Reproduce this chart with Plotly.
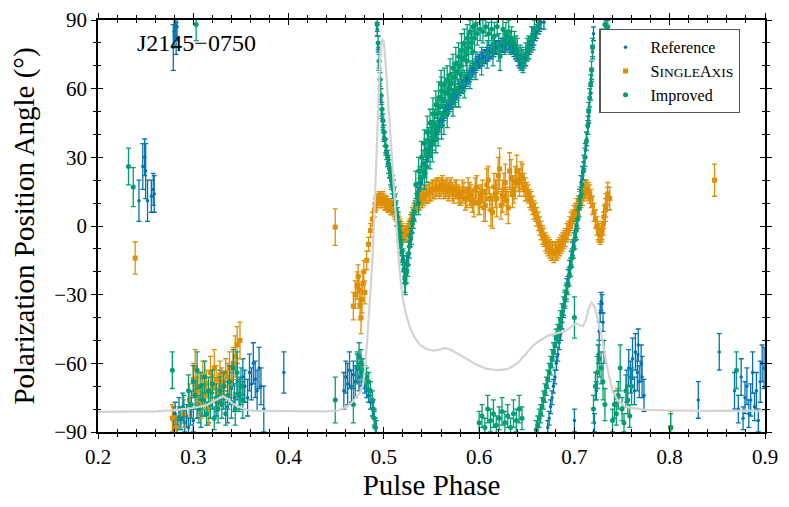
import plotly.graph_objects as go

# Reference solution (blue)
ref_phase = [
    0.243, 0.247, 0.249, 0.250, 0.252, 0.256, 0.258, 0.259,
    0.279, 0.280, 0.281, 0.282, 0.283,
    0.279, 0.281, 0.283, 0.285, 0.287, 0.289, 0.291, 0.293, 0.295, 0.297,
    0.300, 0.304, 0.308, 0.312, 0.316, 0.320, 0.324, 0.328, 0.332, 0.336,
    0.340, 0.343, 0.346, 0.349, 0.352, 0.354, 0.357, 0.359, 0.361, 0.363,
    0.365, 0.367, 0.369, 0.371, 0.374, 0.395,
    0.458, 0.460, 0.462, 0.464, 0.466, 0.468, 0.470, 0.472, 0.474, 0.476,
    0.478, 0.480, 0.482, 0.484, 0.486, 0.488, 0.490, 0.492,
    0.493, 0.494, 0.495, 0.496, 0.497, 0.498, 0.499, 0.500, 0.502, 0.504,
    0.506, 0.508, 0.510, 0.512, 0.514, 0.516, 0.518, 0.520, 0.522, 0.524,
    0.526, 0.528, 0.530, 0.533, 0.536, 0.539, 0.542, 0.545, 0.548, 0.551,
    0.554, 0.557, 0.560, 0.563, 0.566, 0.569, 0.572, 0.575, 0.578, 0.581,
    0.584, 0.587, 0.590, 0.593, 0.596, 0.599, 0.602, 0.605, 0.608, 0.611,
    0.614, 0.617, 0.620, 0.623, 0.626, 0.629, 0.632, 0.635, 0.638, 0.641,
    0.644, 0.647, 0.650, 0.653, 0.656, 0.659, 0.662, 0.665, 0.668,
    0.672, 0.675, 0.678, 0.681, 0.684, 0.687, 0.690, 0.692, 0.695, 0.698,
    0.701, 0.704, 0.707, 0.710, 0.713, 0.715, 0.717, 0.718, 0.719, 0.720,
    0.700, 0.721, 0.723, 0.725, 0.726, 0.727, 0.728, 0.729, 0.730, 0.731,
    0.729, 0.731, 0.733,
    0.755, 0.757, 0.759, 0.761, 0.763, 0.764, 0.766, 0.767, 0.768, 0.770,
    0.771, 0.773, 0.830, 0.852,
    0.868, 0.872, 0.875, 0.877, 0.879, 0.881, 0.883, 0.885, 0.887, 0.889,
    0.891, 0.893, 0.895, 0.897, 0.899,
]
ref_pa = [
    11, 26, 30, 24, 11, 13, 16, 14,
    78, 85, 88, 82, 87,
    -85, -82, -87, -80, -84, -79, -86, -83, -88, -81,
    -85, -78, -82, -76, -80, -73, -77, -70, -74, -79,
    -71, -75, -68, -73, -66, -70, -75, -64, -69, -60,
    -67, -72, -62, -70, -80, -64,
    -72, -66, -69, -63, -70, -65, -68, -62, -66, -64,
    -68, -70, -72, -74, -77, -80, -84, -88,
    86, 78, 70, 62, 55, 49, 44, 39, 33, 28,
    23, 19, 14, 8, 2, -4, -9, -14, -19, -16,
    -9, -3, 2, 8, 14, 19, 24, 29, 33, 36,
    40, 43, 46, 49, 51, 53, 55, 57, 59, 61,
    62, 64, 66, 68, 70, 72, 73, 74, 75, 76,
    77, 78, 78, 79, 79, 80, 79, 78, 76, 73,
    71, 72, 75, 78, 81, 84, 87, 89, 89,
    -88, -79, -70, -60, -51, -42, -32, -26, -18, -10,
    -2, 8, 19, 28, 38, 48, 58, 66, 76, 84,
    -85, -86, -72, -56, -46, -38, -33, -34, -42, -55,
    82, 78, 87,
    -70, -62, -66, -58, -72, -55, -64, -52, -68, -60,
    -66, -74, -76, -55,
    -72, -80, -66, -84, -75, -70, -82, -76, -64, -79,
    -72, -85, -68, -60, -62,
]
ref_err = [
    9, 10, 8, 12, 9, 7, 7, 8,
    10, 6, 5, 7, 6,
    6, 5, 4, 5, 5, 6, 4, 5, 4, 6,
    5, 6, 6, 7, 6, 7, 6, 7, 6, 7,
    7, 6, 8, 7, 8, 7, 8, 8, 7, 9,
    8, 9, 9, 8, 10, 9,
    8, 7, 9, 8, 7, 6, 7, 6, 6, 6,
    3, 3, 3, 3, 3, 3, 3, 3,
    3, 2, 2, 2, 2, 2, 2, 2, 2, 2,
    2, 2, 2, 2, 2, 3, 3, 3, 3, 3,
    3, 3, 3, 3, 3, 3, 3, 3, 3, 3,
    3, 3, 3, 3, 3, 3, 3, 3, 3, 3,
    3, 3, 3, 3, 3, 3, 3, 3, 3, 3,
    3, 3, 3, 3, 3, 3, 3, 3, 3, 3,
    3, 3, 3, 3, 3, 3, 3, 3, 3,
    3, 3, 3, 3, 3, 3, 3, 3, 3, 3,
    3, 3, 3, 3, 3, 3, 3, 3, 3, 3,
    5, 4, 4, 4, 4, 4, 4, 4, 4, 5,
    4, 4, 3,
    7, 8, 7, 9, 6, 8, 8, 7, 7, 8,
    9, 7, 8, 8,
    8, 6, 8, 5, 7, 8, 6, 7, 9, 6,
    8, 5, 9, 8, 9,
]
# extra reference bins between the ones above (same swing, half-step phases)
ref_phase_mid = [
    0.5315, 0.5345, 0.5375, 0.5405, 0.5435, 0.5465, 0.5495, 0.5525, 0.5555, 0.5585,
    0.5615, 0.5645, 0.5675, 0.5705, 0.5735, 0.5765, 0.5795, 0.5825, 0.5855, 0.5885,
    0.5915, 0.5945, 0.5975, 0.6005, 0.6035, 0.6065, 0.6095, 0.6125, 0.6155, 0.6185,
    0.6215, 0.6245, 0.6275, 0.6305, 0.6335, 0.6365, 0.6395, 0.6425, 0.6455, 0.6485,
    0.6515, 0.6545, 0.6575, 0.6605, 0.6635,
    0.6735, 0.6765, 0.6795, 0.6825, 0.6855, 0.6885, 0.6915, 0.6935, 0.6965, 0.6995,
    0.7025, 0.7055, 0.7085, 0.7115, 0.7140,
]
ref_pa_mid = [
    5, 11, 16, 21, 26, 31, 35, 38, 41, 44,
    47, 50, 52, 54, 56, 58, 60, 61, 63, 65,
    67, 69, 71, 72, 73, 74, 75, 76, 77, 78,
    78, 79, 79, 80, 78, 77, 75, 72, 71, 73,
    76, 79, 82, 85, 88,
    -84, -75, -66, -56, -47, -37, -29, -22, -14, -6,
    3, 13, 23, 33, 43,
]
ref_err_mid = [3] * 60

# SingleAxis solution (orange)
sa_phase = [
    0.239, 0.449,
    0.278, 0.282, 0.290, 0.296, 0.300, 0.302, 0.304, 0.306, 0.308, 0.310,
    0.312, 0.314, 0.316, 0.318, 0.320, 0.322, 0.324, 0.326, 0.328, 0.330,
    0.332, 0.334, 0.336, 0.338, 0.340, 0.342, 0.344, 0.346, 0.349,
    0.468, 0.470, 0.472, 0.473, 0.474, 0.475, 0.476, 0.477, 0.478, 0.479,
    0.480, 0.482, 0.484, 0.486, 0.488, 0.490, 0.492, 0.494, 0.496, 0.498,
    0.500, 0.502, 0.504, 0.506, 0.508, 0.510, 0.512, 0.514, 0.516, 0.518,
    0.520, 0.522, 0.524, 0.526, 0.528, 0.530, 0.533, 0.536, 0.539, 0.542,
    0.545, 0.548, 0.551, 0.554, 0.557, 0.560, 0.563, 0.566, 0.569, 0.572,
    0.575, 0.578, 0.581, 0.584, 0.587, 0.590, 0.593, 0.596, 0.599, 0.602,
    0.605, 0.608, 0.611, 0.614, 0.617, 0.620, 0.623, 0.626, 0.629, 0.632,
    0.635, 0.638, 0.641, 0.644, 0.647, 0.650, 0.653, 0.656, 0.659, 0.662,
    0.665, 0.668, 0.671, 0.674, 0.677, 0.680, 0.683, 0.686, 0.689, 0.692,
    0.695, 0.698, 0.701, 0.704, 0.707, 0.710, 0.713, 0.716, 0.719, 0.722,
    0.725, 0.727, 0.729, 0.731, 0.733, 0.735, 0.737,
    0.745, 0.801, 0.847,
]
sa_pa = [
    -14, -0.5,
    -84, -88, -82, -76, -67, -62, -72, -70, -78, -66,
    -74, -69, -80, -64, -71, -62, -67, -73, -65, -68,
    -70, -64, -66, -62, -68, -60, -57, -52, -50,
    -35, -30, -26, -22, -28, -35, -40, -32, -25, -20,
    -29, -15, -8, -2, 3, 7, 10, 11, 12, 11,
    11, 10, 9, 9, 8, 8, 6, 3, 1, -1,
    -3, -4, -3, -1, 2, 5, 8, 10, 12, 13,
    14, 15, 16, 16, 17, 17, 16, 17, 16, 15,
    16, 14, 13, 15, 12, 14, 11, 16, 10, 13,
    8, 18, 12, 6, 14, 22, 9, 16, 11, 24,
    14, 19, 20, 22, 18, 15, 12, 9, 6, 2,
    -2, -5, -8, -10, -11, -11, -10, -8, -6, -3,
    0, 3, 6, 9, 12, 15, 16, 14, 9, 3,
    -2, -4, -2, 4, 9, 14, 12,
    -75, -88, 20,
]
sa_err = [
    7, 8,
    6, 5, 6, 7, 7, 8, 6, 6, 6, 7,
    6, 6, 7, 7, 6, 8, 6, 6, 6, 6,
    6, 6, 6, 7, 6, 7, 9, 8, 8,
    6, 6, 6, 5, 6, 6, 7, 6, 5, 5,
    5, 4, 3, 3, 3, 3, 3, 3, 3, 3,
    3, 3, 3, 3, 3, 3, 3, 3, 3, 3,
    3, 3, 3, 3, 3, 3, 3, 3, 4, 4,
    4, 4, 4, 4, 4, 4, 4, 4, 4, 4,
    4, 4, 4, 4, 4, 5, 5, 5, 5, 5,
    6, 7, 5, 7, 6, 8, 6, 7, 6, 8,
    6, 7, 5, 6, 5, 4, 4, 4, 4, 4,
    4, 4, 4, 4, 4, 4, 4, 4, 4, 4,
    4, 4, 4, 4, 4, 4, 4, 4, 4, 4,
    4, 4, 4, 5, 5, 5, 5,
    4, 7, 7,
]
sa_phase_mid = [
    0.491, 0.493, 0.495, 0.497, 0.499, 0.501, 0.503, 0.505, 0.507, 0.509,
    0.511, 0.513, 0.515, 0.517, 0.519, 0.521, 0.523, 0.525, 0.527, 0.529,
    0.5315, 0.5345, 0.5375, 0.5405, 0.5435, 0.5465, 0.5495, 0.5525, 0.5555, 0.5585,
    0.5615, 0.5645, 0.5675, 0.5705, 0.5735, 0.5765, 0.5795, 0.5825, 0.5855, 0.5885,
    0.5915, 0.5945, 0.5975, 0.6005, 0.6035, 0.6065, 0.6095, 0.6125, 0.6155, 0.6185,
    0.6215, 0.6245, 0.6275, 0.6305, 0.6335, 0.6365, 0.6395, 0.6425, 0.6455, 0.6485,
    0.6515, 0.6545, 0.6575, 0.6605, 0.6635, 0.6665, 0.6695, 0.6725, 0.6755, 0.6785,
    0.6815, 0.6845, 0.6875, 0.6905, 0.6935, 0.6965, 0.6995, 0.7025, 0.7055, 0.7085,
    0.7115, 0.7145, 0.7175, 0.7205, 0.7235, 0.7255, 0.7285, 0.7305, 0.7325, 0.7345,
]
sa_pa_mid = [
    9, 11, 12, 11, 12, 10, 10, 9, 8, 8,
    7, 5, 2, 0, -2, -4, -3, -2, 0, 3,
    6, 9, 11, 12, 14, 14, 15, 16, 17, 16,
    18, 16, 15, 17, 14, 16, 13, 15, 12, 16,
    13, 10, 17, 11, 15, 9, 20, 7, 17, 12,
    25, 13, 19, 8, 21, 16, 24, 19, 21, 16,
    14, 11, 7, 4, 0, -4, -7, -9, -11, -12,
    -11, -9, -7, -5, -2, 2, 5, 8, 11, 13,
    16, 15, 12, 6, 0, -3, -3, 1, 7, 12,
]
sa_err_mid = [
    3, 3, 3, 3, 3, 3, 3, 3, 3, 3,
    3, 3, 3, 3, 3, 3, 3, 3, 3, 3,
    3, 3, 4, 4, 4, 4, 4, 4, 4, 4,
    4, 4, 4, 4, 4, 4, 4, 5, 5, 5,
    5, 6, 5, 6, 5, 7, 6, 7, 6, 8,
    9, 7, 8, 7, 8, 6, 7, 6, 6, 5,
    4, 4, 4, 4, 4, 4, 4, 4, 4, 4,
    4, 4, 4, 4, 4, 4, 4, 4, 4, 4,
    4, 4, 4, 4, 4, 4, 4, 5, 5, 5,
]

# Improved solution (green)
imp_phase = [
    0.232, 0.237, 0.303,
    0.278, 0.285, 0.290, 0.295, 0.298, 0.300, 0.302, 0.304, 0.306, 0.308,
    0.310, 0.312, 0.314, 0.316, 0.318, 0.320, 0.322, 0.324, 0.326, 0.328,
    0.330, 0.332, 0.334, 0.336, 0.338, 0.340, 0.342, 0.344, 0.346, 0.348,
    0.350, 0.352,
    0.449, 0.468, 0.472, 0.474, 0.476, 0.478, 0.480, 0.482, 0.484, 0.486,
    0.488, 0.489, 0.490, 0.491,
    0.493, 0.494, 0.495, 0.496, 0.497, 0.498, 0.499, 0.500, 0.502, 0.504,
    0.506, 0.508, 0.510, 0.512, 0.514, 0.516, 0.518, 0.520, 0.522, 0.524,
    0.526, 0.528, 0.530, 0.532, 0.535, 0.538, 0.541, 0.544, 0.547, 0.550,
    0.553, 0.556, 0.559, 0.562, 0.565, 0.568, 0.571, 0.574, 0.577, 0.580,
    0.583, 0.586, 0.589, 0.592, 0.595, 0.598, 0.601, 0.604, 0.607, 0.610,
    0.613, 0.616, 0.619, 0.622, 0.625, 0.628, 0.631, 0.634, 0.637, 0.640,
    0.643, 0.646, 0.649, 0.652, 0.655, 0.658,
    0.545, 0.551, 0.557, 0.560, 0.563, 0.569, 0.575, 0.581, 0.587, 0.593,
    0.600, 0.603, 0.606, 0.609, 0.612, 0.615, 0.618, 0.621, 0.624, 0.627,
    0.630, 0.633, 0.636, 0.639, 0.642, 0.645,
    0.660, 0.663, 0.666, 0.669, 0.672, 0.675, 0.678, 0.681, 0.684, 0.687,
    0.690, 0.693, 0.696, 0.699, 0.700, 0.702, 0.705, 0.708, 0.711, 0.714,
    0.716, 0.718, 0.719,
    0.720, 0.722, 0.724, 0.726, 0.728, 0.730, 0.732, 0.732, 0.735,
    0.740, 0.742, 0.744, 0.746, 0.748, 0.750, 0.752, 0.754, 0.756, 0.758,
    0.760, 0.801, 0.870,
]
imp_pa = [
    26, 17, 88,
    -63, -84, -80, -72, -78, -68, -74, -63, -80, -70,
    -76, -66, -82, -72, -78, -69, -84, -75, -80, -72,
    -78, -70, -82, -74, -68, -77, -62, -80, -64, -74,
    -70, -76,
    -76, -78, -62, -57, -60, -63, -65, -66, -68, -72,
    -76, -80, -84, -88,
    88, 80, 72, 64, 57, 51, 46, 41, 35, 30,
    25, 20, 16, 10, 4, -2, -8, -15, -23, -20,
    -12, -5, 1, 6, 14, 21, 27, 33, 37, 41,
    45, 49, 52, 55, 58, 60, 62, 65, 67, 70,
    73, 75, 78, 80, 82, 84, 86, 85, 87, 84,
    86, 83, 87, 74, 86, 84, 85, 82, 80, 77,
    74, 72, 75, 78, 82, 86,
    26, 36, 42, 62, 48, 57, 60, 66, 72, 76,
    -86, -83, -88, -80, -85, -82, -87, -84, -81, -86,
    -83, -88, -82, -85, -80, -84,
    -89, -84, -79, -73, -67, -61, -55, -49, -44, -38,
    -32, -26, -18, -10, -40, -2, 8, 18, 30, 44,
    56, 68, 78,
    -80, -70, -64, -58, -62, -68, -78, 88, 87,
    -85, -78, -82, -74, -62, -80, -86, -72, -76, -83,
    -70, -88, -63,
]
imp_err = [
    8, 8.5, 7,
    8, 5, 6, 7, 6, 7, 6, 8, 6, 6,
    7, 7, 5, 6, 6, 6, 5, 6, 6, 6,
    6, 6, 5, 6, 7, 7, 8, 7, 9, 7,
    8, 8,
    10, 8, 7, 6, 6, 5, 4, 4, 4, 4,
    4, 4, 4, 4,
    3, 3, 3, 3, 3, 3, 3, 3, 3, 3,
    4, 4, 4, 4, 4, 4, 5, 5, 6, 5,
    5, 4, 4, 4, 5, 5, 6, 5, 6, 5,
    6, 6, 5, 6, 5, 6, 5, 6, 5, 6,
    6, 5, 6, 5, 6, 5, 5, 5, 4, 5,
    5, 6, 4, 6, 5, 5, 5, 5, 5, 5,
    5, 5, 5, 5, 5, 4,
    7, 8, 7, 6, 8, 7, 8, 7, 6, 6,
    5, 5, 4, 6, 5, 6, 4, 5, 6, 5,
    5, 4, 6, 5, 6, 5,
    4, 4, 4, 4, 4, 4, 4, 4, 4, 4,
    4, 4, 4, 4, 9, 4, 4, 4, 4, 4,
    4, 4, 4,
    6, 6, 7, 8, 7, 8, 7, 3, 3,
    5, 6, 5, 6, 10, 5, 4, 7, 6, 5,
    8, 6, 8,
]
imp_phase_mid = [
    0.501, 0.503, 0.505, 0.507, 0.509, 0.511, 0.513, 0.515, 0.517, 0.519,
    0.521, 0.5225, 0.525, 0.527, 0.529, 0.531,
    0.5335, 0.5365, 0.5395, 0.5425, 0.5455, 0.5485, 0.5515, 0.5545, 0.5575, 0.5605,
    0.5635, 0.5665, 0.5695, 0.5725, 0.5755, 0.5785, 0.5815, 0.5845, 0.5875, 0.5905,
    0.5935, 0.5965,
    0.5365, 0.5425, 0.5485, 0.5545, 0.5605, 0.5665, 0.5725, 0.5785, 0.5845, 0.5905,
    0.5965, 0.6025, 0.6085, 0.6145, 0.6205, 0.6265, 0.6325, 0.6385, 0.6445, 0.6505,
    0.6565, 0.6625,
    0.6615, 0.6645, 0.6675, 0.6705, 0.6735, 0.6765, 0.6795, 0.6825, 0.6855, 0.6885,
    0.6915, 0.6945, 0.6975, 0.7005, 0.7035, 0.7065, 0.7095, 0.7125, 0.7150, 0.7170,
]
imp_pa_mid = [
    38, 32, 27, 22, 18, 13, 7, 1, -5, -11,
    -19, -25, -17, -9, -3, 3,
    18, 24, 30, 36, 41, 45, 49, 53, 56, 59,
    62, 64, 66, 69, 71, 74, 77, 80, 82, 85,
    87, 88,
    10, 22, 31, 38, 44, 49, 54, 58, 62, 66,
    70, 72, 75, 76, 78, 80, 80, 78, 73, 77,
    82, 88,
    -87, -82, -76, -70, -64, -58, -52, -47, -41, -35,
    -29, -22, -14, -6, 3, 13, 24, 37, 50, 62,
]
imp_err_mid = [
    3, 3, 4, 4, 4, 4, 4, 5, 5, 5,
    6, 5, 5, 5, 5, 4,
    6, 6, 7, 6, 7, 6, 7, 6, 7, 6,
    7, 6, 7, 6, 7, 6, 7, 6, 6, 5,
    5, 4,
    5, 6, 6, 6, 6, 6, 6, 6, 6, 6,
    6, 6, 6, 6, 6, 5, 5, 5, 5, 5,
    5, 4,
    4, 4, 4, 4, 4, 4, 4, 4, 4, 4,
    4, 4, 4, 4, 4, 4, 4, 4, 4, 4,
]

# mean pulse profile, scaled onto the angle axis
prof_phase = [
    0.200, 0.230, 0.260, 0.280, 0.300, 0.314, 0.322, 0.328, 0.331, 0.335,
    0.341, 0.349, 0.356, 0.363, 0.400, 0.440, 0.452, 0.461, 0.468, 0.475,
    0.478, 0.480, 0.482, 0.484, 0.486, 0.488, 0.490, 0.492, 0.494, 0.496,
    0.498, 0.500, 0.502, 0.504, 0.506, 0.508, 0.510, 0.512, 0.514, 0.516,
    0.518, 0.520, 0.523, 0.527, 0.532, 0.538, 0.545, 0.552, 0.558, 0.564,
    0.570, 0.578, 0.587, 0.597, 0.607, 0.619, 0.630, 0.640, 0.648, 0.656,
    0.664, 0.672, 0.680, 0.690, 0.697, 0.702, 0.706, 0.709, 0.712, 0.715,
    0.718, 0.721, 0.724, 0.728, 0.732, 0.736, 0.740, 0.746, 0.753, 0.761,
    0.775, 0.800, 0.850, 0.900,
]
prof_pa = [
    -81.2, -81.2, -81.0, -80.4, -79.5, -78.3, -76.5, -74.8, -74.3, -75.2,
    -77.5, -79.2, -80.3, -80.8, -81.0, -81.0, -80.6, -79.0, -76.5, -72.5,
    -70.0, -63.0, -53.0, -40.0, -27.0, -15.0, 5.0, 30.0, 55.0, 73.0,
    81.5, 80.5, 70.0, 57.0, 45.0, 32.0, 20.0, 6.0, -6.0, -17.0,
    -25.0, -32.0, -38.0, -44.0, -48.5, -52.0, -53.8, -54.5, -54.0, -53.3,
    -54.0, -56.0, -58.0, -60.5, -62.3, -63.0, -62.5, -60.0, -56.5, -52.5,
    -50.0, -48.0, -47.0, -46.0, -44.0, -42.5, -43.5, -43.8, -41.0, -36.0,
    -33.5, -35.0, -40.0, -47.0, -56.0, -65.0, -72.0, -76.5, -78.8, -79.6,
    -80.3, -80.6, -80.8, -80.7,
]

serif = "Liberation Serif"
c_ref = "#0173B2"
c_sa = "#DE8F05"
c_imp = "#029E73"

fig = go.Figure()

fig.add_trace(go.Scatter(
    x=ref_phase + ref_phase_mid, y=ref_pa + ref_pa_mid, mode="markers", name="Reference",
    marker=dict(color=c_ref, size=3.5, symbol="circle"),
    error_y=dict(type="data", array=ref_err + ref_err_mid, color=c_ref, thickness=1.3, width=2.5),
))
fig.add_trace(go.Scatter(
    x=sa_phase + sa_phase_mid, y=sa_pa + sa_pa_mid, mode="markers",
    name="S<span style='font-size:13.5px'>INGLE</span>A<span style='font-size:13.5px'>XIS</span>",
    marker=dict(color=c_sa, size=5, symbol="square"),
    error_y=dict(type="data", array=sa_err + sa_err_mid, color=c_sa, thickness=1.3, width=2.5),
))
fig.add_trace(go.Scatter(
    x=imp_phase + imp_phase_mid, y=imp_pa + imp_pa_mid, mode="markers", name="Improved",
    marker=dict(color=c_imp, size=5, symbol="circle"),
    error_y=dict(type="data", array=imp_err + imp_err_mid, color=c_imp, thickness=1.3, width=2.5),
))
# profile on the overlay axes so it sits on top of the points
fig.add_trace(go.Scatter(
    x=prof_phase, y=prof_pa, mode="lines", showlegend=False,
    line=dict(color="#d3d3d3", width=2.2), hoverinfo="skip",
    xaxis="x2", yaxis="y2",
))

tick_font = dict(family=serif, size=21, color="black")

# page body adds an 8px offset, so the figure is a bit smaller than the window
fig.update_layout(
    width=781, height=499,
    margin=dict(l=90, r=24, t=12, b=75),
    paper_bgcolor="white", plot_bgcolor="white",
    font=dict(family=serif, color="black"),
    xaxis=dict(
        range=[0.2, 0.9], dtick=0.1, tick0=0.2, tickformat=".1f",
        automargin=False, ticklabeloverflow="allow",
        showgrid=False, zeroline=False, showline=True, linecolor="black", linewidth=1.6,
        mirror="ticks", ticks="outside", ticklen=5, tickwidth=1.3, tickcolor="black",
        minor=dict(dtick=0.02, ticks="outside", ticklen=3, tickwidth=1, tickcolor="black"),
        tickfont=tick_font,
        title=dict(text="Pulse Phase", font=dict(family=serif, size=29), standoff=1),
    ),
    yaxis=dict(
        range=[-90, 90], dtick=30, tick0=-90,
        automargin=False, ticklabeloverflow="allow",
        showgrid=False, zeroline=False, showline=True, linecolor="black", linewidth=1.6,
        mirror="ticks", ticks="outside", ticklen=5, tickwidth=1.3, tickcolor="black",
        minor=dict(dtick=10, ticks="outside", ticklen=3, tickwidth=1, tickcolor="black"),
        tickfont=tick_font,
        title=dict(text="Polarization Position Angle (°)", font=dict(family=serif, size=29), standoff=11),
    ),
    xaxis2=dict(
        overlaying="x", matches="x", anchor="y2", side="bottom", automargin=False,
        showgrid=False, zeroline=False, showline=False, showticklabels=False,
        dtick=0.1, tick0=0.2, mirror="ticks", ticks="inside", ticklen=5, tickwidth=1.3,
        tickcolor="black",
        minor=dict(dtick=0.02, ticks="inside", ticklen=3, tickwidth=1, tickcolor="black"),
    ),
    yaxis2=dict(
        overlaying="y", matches="y", anchor="x2", side="left", automargin=False,
        showgrid=False, zeroline=False, showline=False, showticklabels=False,
        dtick=30, tick0=-90, mirror="ticks", ticks="inside", ticklen=5, tickwidth=1.3,
        tickcolor="black",
        minor=dict(dtick=10, ticks="inside", ticklen=3, tickwidth=1, tickcolor="black"),
    ),
    legend=dict(
        x=0.963, y=0.978, xanchor="right", yanchor="top",
        bgcolor="white", bordercolor="#555555", borderwidth=1.2,
        font=dict(family=serif, size=16, color="black"),
        itemwidth=40, tracegroupgap=0,
    ),
    showlegend=True,
)

fig.add_annotation(
    text="J2145−0750", xref="paper", yref="paper", x=0.055, y=0.945,
    xanchor="left", yanchor="middle", showarrow=False,
    font=dict(family=serif, size=24, color="black"),
)

fig.write_html("out.html")
